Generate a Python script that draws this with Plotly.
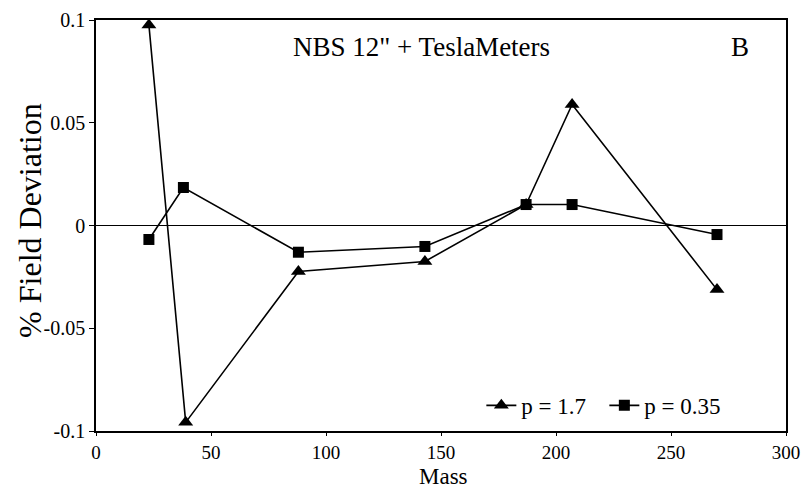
import plotly.graph_objects as go

# Field deviation vs. mass for two p values
mass_p17 = [23, 39, 88, 143, 187, 207, 270]
dev_p17 = [0.0976, -0.0958, -0.0224, -0.0175, 0.0102, 0.0589, -0.0312]

mass_p035 = [23, 38, 88, 143, 187, 207, 270]
dev_p035 = [-0.0068, 0.0185, -0.0130, -0.0102, 0.0102, 0.0102, -0.0044]

x_ticks = [0, 50, 100, 150, 200, 250, 300]
y_ticks = [-0.1, -0.05, 0, 0.05, 0.1]
y_tick_text = ["-0.1", "-0.05", "0", "0.05", "0.1"]

FONT = "Liberation Serif, Times New Roman, serif"

fig = go.Figure()
fig.add_trace(go.Scatter(
    x=mass_p17, y=dev_p17, mode="lines+markers", name="p = 1.7",
    line=dict(color="black", width=1.6),
    marker=dict(symbol="triangle-up", size=13, color="black"),
    cliponaxis=False,
))
fig.add_trace(go.Scatter(
    x=mass_p035, y=dev_p035, mode="lines+markers", name="p = 0.35",
    line=dict(color="black", width=1.6),
    marker=dict(symbol="square", size=11, color="black"),
    cliponaxis=False,
))

# zero reference line
fig.add_shape(type="line", xref="paper", yref="y", x0=0, x1=1, y0=0, y1=0,
              line=dict(color="black", width=1))

fig.add_annotation(text="NBS 12\" + TeslaMeters", xref="paper", yref="paper",
                   x=0.472, y=0.935, xanchor="center", yanchor="middle",
                   showarrow=False,
                   font=dict(family=FONT, size=27, color="black"))
fig.add_annotation(text="B", xref="paper", yref="paper",
                   x=0.934, y=0.935, xanchor="center", yanchor="middle",
                   showarrow=False,
                   font=dict(family=FONT, size=27, color="black"))

# axis titles
fig.add_annotation(text="Mass", xref="paper", yref="paper",
                   x=0.503, y=-0.1436, xanchor="center", yanchor="bottom",
                   showarrow=False, borderpad=0,
                   font=dict(family=FONT, size=23, color="black"))
fig.add_annotation(text="% Field Deviation", xref="paper", yref="paper",
                   x=-0.096, y=0.513, xanchor="center", yanchor="middle",
                   textangle=-90, showarrow=False,
                   font=dict(family=FONT, size=32, color="black"))

fig.update_layout(
    width=802, height=490,
    margin=dict(l=96, r=16, t=20, b=59),
    paper_bgcolor="white", plot_bgcolor="white",
    font=dict(family=FONT, color="black", size=19),
    showlegend=True,
    legend=dict(orientation="h", x=0.915, y=0.01, xanchor="right", yanchor="bottom",
                font=dict(family=FONT, size=23), bgcolor="rgba(0,0,0,0)",
                itemwidth=30, entrywidth=78, tracegroupgap=0),
    xaxis=dict(range=[0, 300], tickvals=x_ticks, showgrid=False, zeroline=False,
               showline=True, linecolor="black", linewidth=1.5, mirror=True,
               ticks="outside", ticklen=3, tickcolor="black", automargin=False,
               tickfont=dict(family=FONT, size=19)),
    yaxis=dict(range=[-0.1, 0.1], tickvals=y_ticks, ticktext=y_tick_text,
               showgrid=False, zeroline=False,
               showline=True, linecolor="black", linewidth=1.5, mirror=True,
               ticks="outside", ticklen=5, tickcolor="black", automargin=False,
               tickfont=dict(family=FONT, size=20)),
)

fig.write_html("out.html")
